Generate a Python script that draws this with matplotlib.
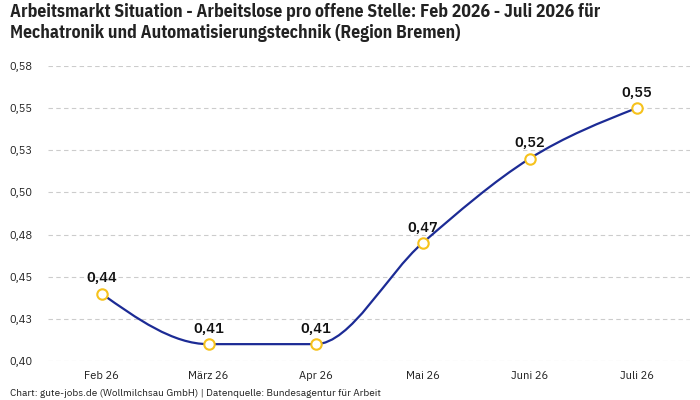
#!/usr/bin/env python3
"""Arbeitslose pro offene Stelle, Mechatronik (Region Bremen), Feb-Juli 2026."""

import matplotlib

matplotlib.use("Agg")
import matplotlib.pyplot as plt
import numpy as np
from matplotlib.patches import PathPatch
from matplotlib.path import Path

months = ["Feb 26", "März 26", "Apr 26", "Mai 26", "Juni 26", "Juli 26"]
ratio = [0.44, 0.41, 0.41, 0.47, 0.52, 0.55]
value_labels = ["0,44", "0,41", "0,41", "0,47", "0,52", "0,55"]
y_ticks = [0.40, 0.425, 0.45, 0.475, 0.50, 0.525, 0.55, 0.575]
y_tick_labels = ["0,40", "0,43", "0,45", "0,48", "0,50", "0,53", "0,55", "0,58"]

title = ("Arbeitsmarkt Situation - Arbeitslose pro offene Stelle: Feb 2026 - Juli 2026 für\n"
         "Mechatronik und Automatisierungstechnik (Region Bremen)")
footer = "Chart: gute-jobs.de (Wollmilchsau GmbH) | Datenquelle: Bundesagentur für Arbeit"

LINE = "#1c2b95"
MARK = "#f6c21c"


def monotone_tangents(x, y):
    # same slope rule as d3.curveMonotoneX
    n = len(x)
    t = np.zeros(n)
    for i in range(1, n - 1):
        h0 = x[i] - x[i - 1]
        h1 = x[i + 1] - x[i]
        s0 = (y[i] - y[i - 1]) / h0
        s1 = (y[i + 1] - y[i]) / h1
        p = (s0 * h1 + s1 * h0) / (h0 + h1)
        t[i] = (np.sign(s0) + np.sign(s1)) * min(abs(s0), abs(s1), 0.5 * abs(p))
    t[0] = (3 * (y[1] - y[0]) / (x[1] - x[0]) - t[1]) / 2
    t[-1] = (3 * (y[-1] - y[-2]) / (x[-1] - x[-2]) - t[-2]) / 2
    return t


def main() -> None:
    plt.rcParams["font.family"] = ["IBM Plex Sans", "DejaVu Sans"]

    x = np.arange(len(months), dtype=float)
    y = np.array(ratio)

    fig = plt.figure(figsize=(7.0, 4.0), dpi=100)
    ax = fig.add_axes([48 / 700, 39 / 400, 642 / 700, 295 / 400])

    # smooth line as cubic bezier segments
    t = monotone_tangents(x, y)
    verts = [(x[0], y[0])]
    codes = [Path.MOVETO]
    for i in range(len(x) - 1):
        dx = (x[i + 1] - x[i]) / 3
        verts += [(x[i] + dx, y[i] + dx * t[i]),
                  (x[i + 1] - dx, y[i + 1] - dx * t[i + 1]),
                  (x[i + 1], y[i + 1])]
        codes += [Path.CURVE4] * 3
    ax.add_patch(PathPatch(Path(verts, codes), facecolor="none",
                           edgecolor=LINE, linewidth=1.6, zorder=3))

    ax.plot(x, y, linestyle="none", marker="o", markersize=7.5,
            markerfacecolor="white", markeredgecolor=MARK,
            markeredgewidth=1.5, zorder=4)

    for xi, yi, lab in zip(x, y, value_labels):
        ax.annotate(lab, (xi, yi), xytext=(0, 6), textcoords="offset points",
                    ha="center", va="bottom", fontsize=10, fontweight=600,
                    color="#111111", zorder=5,
                    family=["IBM Plex Sans JP", "IBM Plex Sans", "DejaVu Sans"])

    ax.set_xlim(-0.5, len(months) - 0.5)
    ax.set_ylim(0.40, 0.575)
    ax.set_xticks(x)
    ax.set_xticklabels(months, fontsize=8, color="#222222")
    ax.set_yticks(y_ticks)
    ax.set_yticklabels(y_tick_labels, fontsize=8, color="#222222")
    ax.tick_params(axis="both", length=0)
    ax.tick_params(axis="x", pad=7)
    ax.tick_params(axis="y", pad=11)
    ax.grid(axis="y", color="#cccccc", linestyle=(0, (4, 3)), linewidth=0.8)
    ax.set_axisbelow(True)
    for spine in ax.spines.values():
        spine.set_visible(False)

    fig.text(10 / 700, 1 - 3 / 400, title, ha="left", va="top",
             fontsize=12.8, fontweight="bold", color="#222222",
             linespacing=1.25,
             family=["IBM Plex Sans Condensed", "DejaVu Sans"])
    fig.text(10 / 700, 7 / 400, footer, ha="left", va="center",
             fontsize=7.2, color="#222222")

    fig.savefig("out.png", dpi=100)
    plt.close(fig)


if __name__ == "__main__":
    main()
